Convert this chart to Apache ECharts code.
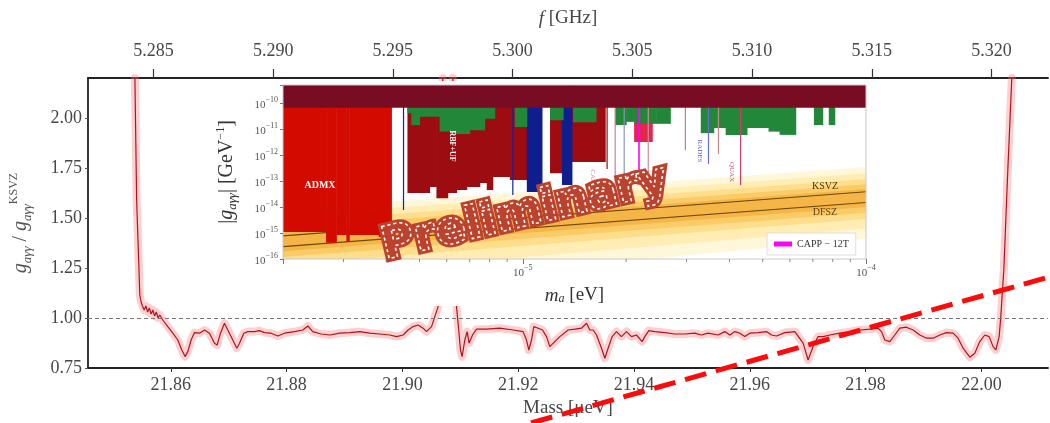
<!DOCTYPE html>
<html><head><meta charset="utf-8">
<script src="https://cdn.jsdelivr.net/npm/echarts@6/dist/echarts.min.js"></script>
<style>html,body{margin:0;padding:0;background:#fff}#c{width:1050px;height:423px}</style>
</head><body><div id="c"></div>
<script>
// ---------------- main chart data ----------------
const massUeV = [
21.8538,21.8541,21.85465,21.85487,21.8551,21.8554,21.8557,21.8560,21.8563,21.8566,21.8569,21.8572,21.8575,21.8578,21.8581,
21.85862,21.85948,21.86035,21.86121,21.8619,21.86247,21.86294,21.86351,21.86409,21.86496,21.86582,21.86668,21.86755,21.868,
21.86858,21.86927,21.86984,21.87071,21.8714,21.87187,21.87261,21.8733,21.87446,21.87532,21.87618,21.87732,21.87848,21.87964,
21.88136,21.8828,21.88366,21.88452,21.88596,21.88746,21.88919,21.89092,21.89264,21.89437,21.8961,21.89782,21.89898,21.90012,
21.90098,21.90185,21.90271,21.90358,21.90416,21.90503,21.9056,21.90617,21.90698,
21.9078,
21.90871,21.90934,21.90962,21.91003,21.91031,21.91078,21.91118,21.91152,21.91211,21.9128,21.91453,21.91682,21.91912,21.92085,
21.92143,21.92183,21.9223,21.92269,21.92344,21.9242,21.92489,21.92546,21.92632,21.92719,21.92862,21.92978,21.93093,21.9318,
21.93237,21.93294,21.93352,21.93439,21.93496,21.93553,21.93622,21.93698,21.93784,21.9387,21.93957,21.94043,21.9414,21.94187,
21.94256,21.9436,21.94532,21.94705,21.94878,21.9505,21.95166,21.9528,21.95453,21.95568,21.95655,21.95741,21.95827,21.95914,
21.96,21.96143,21.96288,21.96375,21.96461,21.96604,21.96777,21.96921,21.97007,21.97093,21.9718,21.97266,21.97382,21.97555,
21.97727,21.979,21.98073,21.98216,21.98275,21.98332,21.98418,21.98504,21.98591,21.98706,21.9882,21.98936,21.99052,21.99166,
21.99281,21.99397,21.99511,21.99597,21.99684,21.998,21.99886,21.99972,22.00059,22.00133,22.00202,22.00249,22.00306,22.00335,
22.00364,22.00387,22.00456,22.00525];
const ratioKsvz = [
2.20,1.59,1.115,1.08,1.06,1.04,1.06,1.03,1.05,1.02,1.04,1.01,1.03,1.00,1.015,
0.99,0.957,0.924,0.89,0.84,0.807,0.832,0.89,0.927,0.924,0.94,0.924,0.874,0.865,
0.924,0.974,0.94,0.89,0.849,0.874,0.924,0.932,0.932,0.937,0.927,0.924,0.91,0.924,
0.932,0.94,0.96,0.932,0.92,0.915,0.924,0.927,0.932,0.924,0.92,0.915,0.907,0.915,
0.94,0.957,0.965,0.949,0.932,0.957,1.007,1.057,2.20,
null,
2.20,1.057,0.974,0.84,0.807,0.89,0.932,0.874,0.915,0.944,0.944,0.949,0.94,0.932,
0.89,0.84,0.89,0.957,0.949,0.94,0.907,0.857,0.882,0.907,0.94,0.944,0.949,0.974,
0.94,0.94,0.915,0.849,0.799,0.849,0.907,0.932,0.907,0.932,0.907,0.915,0.882,0.907,
0.937,0.932,0.927,0.92,0.92,0.924,0.915,0.924,0.915,0.932,0.915,0.932,0.924,0.907,
0.924,0.927,0.932,0.915,0.91,0.927,0.932,0.874,0.79,0.857,0.907,0.907,0.915,0.924,
0.932,0.94,0.944,0.949,0.932,0.89,0.882,0.915,0.949,0.954,0.94,0.915,0.899,0.899,
0.915,0.927,0.924,0.899,0.849,0.804,0.824,0.882,0.915,0.907,0.857,0.84,0.907,1.007,
1.14,1.24,1.74,2.20];
const massTicks = [21.86, 21.88, 21.90, 21.92, 21.94, 21.96, 21.98, 22.00];
const freqTicks = [5.285, 5.290, 5.295, 5.300, 5.305, 5.310, 5.315, 5.320];
const ratioTicks = [0.75, 1.00, 1.25, 1.50, 1.75, 2.00];
const GHZ_PER_UEV = 0.241799;
const MASS_MIN = 21.8457, MASS_MAX = 22.0115;

// ---------------- inset data (m_a [eV], |g| [GeV^-1]) ----------------
const castLimit = [[2e-6, 6.6e-11], [1e-4, 6.6e-11]];
const admxLimit = [[2.0e-6,1.1e-15],[2.67e-6,4.2e-16],[2.86e-6,8.4e-16],[3.06e-6,4.5e-16],[3.12e-6,8.4e-16],[3.8e-6,7e-16],[4.14e-6,7e-16]];
const rbfLimit = [[4.61e-6,3.45e-14],[5.35e-6,5.9e-14],[5.6e-6,2.2e-14],[6.04e-6,3.45e-14],[6.41e-6,4.5e-14],[6.86e-6,5.9e-14],
  [7.49e-6,8.4e-14],[7.85e-6,4.5e-14],[8.17e-6,1.43e-13],[9.16e-6,1.09e-13],[1.027e-5,1.09e-13]];
const darkRedLimit = [[1.2e-5,2e-13],[1.3e-5,5.4e-13],[1.738e-5,5.4e-13]];
const blueLimit = [[1.027e-5,3.8e-14],[1.137e-5,5e-10],[1.3e-5,7e-14],[1.39e-5,5e-10]];
const pinkLimit = [[2.11e-5,3.2e-12],[2.383e-5,5e-10]];
const greenLimit = [[4.61e-6,4.1e-11],[4.73e-6,1.43e-11],[5.0e-6,3.0e-11],[5.72e-6,8e-12],[6.33e-6,6.5e-12],[7.0e-6,9e-12],
  [7.74e-6,2.5e-11],[8.28e-6,5e-10],[9.47e-6,1.2e-11],[1.027e-5,5e-10],[1.2e-5,2.2e-11],[1.31e-5,5e-10],[1.4e-5,1.86e-11],
  [1.634e-5,5e-10],[1.858e-5,1.43e-11],[2.0e-5,1.9e-11],[2.11e-5,1.6e-11],[2.45e-5,1.6e-11],[2.69e-5,5e-10],[3.3e-5,7e-12],
  [3.6e-5,1.1e-11],[3.9e-5,6e-12],[4.5e-5,1.1e-11],[5.2e-5,8e-12],[5.6e-5,6e-12],[6.24e-5,5e-10],[7.05e-5,1.43e-11],
  [7.48e-5,5e-10],[7.79e-5,1.43e-11],[8.11e-5,5e-10]];
const insetLines = [[4.49e-6,7.7e-15],[9.35e-6,2.9e-14],[1.76e-5,2.9e-13],[1.858e-5,4.5e-14],[1.974e-5,1.2e-13],[2.32e-5,1.9e-14],
  [2.976e-5,1.55e-12],[3.475e-5,4.5e-13],[3.716e-5,1.1e-12],[4.31e-5,7e-14]];
const capp12T = [[2.18e-5,1.2e-13]];
const ksvzLine = [[2e-6,7.8e-16],[1e-4,3.9e-14]];
const dfszLine = [[2e-6,3.0e-16],[1e-4,1.5e-14]];
const qcdBands = [
  [[2e-6,8e-15],[1e-4,3.5e-13],[1e-4,6e-16],[2e-6,5e-18]],
  [[2e-6,4.5e-15],[1e-4,2e-13],[1e-4,1.5e-15],[2e-6,2e-17]],
  [[2e-6,2.6e-15],[1e-4,1.2e-13],[1e-4,3.5e-15],[2e-6,6e-17]],
  [[2e-6,1.6e-15],[1e-4,7.5e-14],[1e-4,6e-15],[2e-6,1.2e-16]],
  [[2e-6,1.0e-15],[1e-4,5e-14],[1e-4,1.0e-14],[2e-6,2e-16]]
];
const insetMinorTicks = [3e-6,4e-6,5e-6,6e-6,7e-6,8e-6,9e-6,2e-5,3e-5,4e-5,5e-5,6e-5,7e-5,8e-5,9e-5];
const IX0 = 2e-6, IX1 = 1e-4, IY0 = 1e-16, IY1 = 5e-10;

// ---------------- styles ----------------
const SERIF = '"Liberation Serif","DejaVu Serif",serif';
const TXT = '#474747';
const lineColors = ['#14239a','#14239a','#9e0b0f','#d77a9a','#8c93b8','#c9909a','#b98080','#6d6dd8','#c48a8a','#c8406a'];
const qcdColors = ['rgba(255,232,150,0.35)','rgba(255,218,110,0.35)','rgba(252,200,80,0.4)','rgba(247,180,55,0.45)','rgba(240,160,40,0.5)'];

const mainData = massUeV.map((m, i) => [m, ratioKsvz[i] === null ? '-' : ratioKsvz[i]]);

function stepRect(limit) {
  return function (params, api) {
    const i = params.dataIndex;
    if (i >= limit.length - 1) return null;
    const a = api.coord([limit[i][0], limit[i][1]]);
    const b = api.coord([limit[i + 1][0], limit[i][1]]);
    const top = params.coordSys.y;
    const h = a[1] - top;
    if (h <= 0.3) return null;
    return {type: 'rect', shape: {x: a[0], y: top, width: b[0] - a[0] + 0.5, height: h},
      style: {fill: api.visual('color')}};
  };
}
function region(name, limit, color, z) {
  return {name, type: 'custom', xAxisIndex: 2, yAxisIndex: 1, data: limit, renderItem: stepRect(limit),
    itemStyle: {color}, clip: true, silent: true, z};
}
function vlines(name, data, colors, width, color, z) {
  return {name, type: 'custom', xAxisIndex: 2, yAxisIndex: 1, data, clip: true, silent: true, z,
    itemStyle: {color: color || '#888'},
    renderItem: (params, api) => {
      const p = api.coord([api.value(0), api.value(1)]);
      return {type: 'line', shape: {x1: p[0], y1: p[1], x2: p[0], y2: params.coordSys.y},
        style: {stroke: colors ? colors[params.dataIndex] : api.visual('color'), lineWidth: width}};
    }};
}
function powLabel(v) {
  const e = Math.log10(v);
  if (Math.abs(e - Math.round(e)) > 0.01) return '';
  return '{b|10}{s|\u2212' + Math.abs(Math.round(e)) + '}';
}
const powRich = {b: {fontFamily: SERIF, fontSize: 11, color: '#555', lineHeight: 15, verticalAlign: 'bottom'},
                 s: {fontFamily: SERIF, fontSize: 8, color: '#555', lineHeight: 9, verticalAlign: 'top'}};

const chart = echarts.init(document.getElementById('c'));
chart.setOption({
  animation: false,
  backgroundColor: '#fff',
  grid: [
    {left: 88, top: 78, right: 2, bottom: 55, show: false},
    {left: 283, top: 85, width: 583, height: 174, show: true, z: 30, borderColor: '#c8c8c8', borderWidth: 1, backgroundColor: 'transparent'}
  ],
  xAxis: [
    {type: 'value', gridIndex: 0, position: 'bottom', min: MASS_MIN, max: MASS_MAX,
     name: 'Mass [\u03bceV]', nameLocation: 'middle', nameGap: 30,
     nameTextStyle: {fontFamily: SERIF, fontSize: 19, color: TXT},
     axisLine: {lineStyle: {color: '#222', width: 1.8}},
     axisTick: {show: true, length: 4, customValues: massTicks, lineStyle: {color: '#333'}},
     axisLabel: {customValues: massTicks, margin: 8, fontFamily: SERIF, fontSize: 18, color: TXT, formatter: v => v.toFixed(2)},
     splitLine: {show: false}},
    {type: 'value', gridIndex: 0, position: 'top', min: MASS_MIN * GHZ_PER_UEV, max: MASS_MAX * GHZ_PER_UEV,
     name: '{i|f} [GHz]', nameLocation: 'middle', nameGap: 50,
     nameTextStyle: {fontFamily: SERIF, fontSize: 19, color: TXT, rich: {i: {fontFamily: SERIF, fontSize: 19, fontStyle: 'italic', color: TXT}}},
     axisLine: {lineStyle: {color: '#222', width: 1.8}},
     axisTick: {show: true, length: 9, customValues: freqTicks, lineStyle: {color: '#333', width: 1.2}},
     axisLabel: {customValues: freqTicks, margin: 18, fontFamily: SERIF, fontSize: 18, color: TXT, formatter: v => v.toFixed(3)},
     splitLine: {show: false}},
    {type: 'log', logBase: 10, gridIndex: 1, min: IX0, max: IX1, z: 31,
     name: '{i|m}{s|a}{n| [eV]}', nameLocation: 'middle', nameGap: 24,
     nameTextStyle: {rich: {i: {fontFamily: SERIF, fontSize: 19, fontStyle: 'italic', color: '#333', lineHeight: 22, verticalAlign: 'bottom'},
                            s: {fontFamily: SERIF, fontSize: 12, fontStyle: 'italic', color: '#333', lineHeight: 12, verticalAlign: 'bottom'},
                            n: {fontFamily: SERIF, fontSize: 19, color: '#333', lineHeight: 22, verticalAlign: 'bottom'}}},
     axisLine: {show: false}, axisTick: {show: true, length: 5, inside: false, lineStyle: {color: '#777'}},
     axisLabel: {margin: 5, formatter: powLabel, rich: powRich}, splitLine: {show: false}},
  ],
  yAxis: [
    {type: 'value', gridIndex: 0, min: 0.75, max: 2.2,
     name: '{i|g}{s|a\u03b3\u03b3}{n| / }{i|g}{s|a\u03b3\u03b3}{p|KSVZ}', nameLocation: 'middle', nameGap: 54, nameRotate: 90,
     nameTextStyle: {rich: {
       i: {fontFamily: SERIF, fontSize: 20, fontStyle: 'italic', color: '#555', lineHeight: 26, verticalAlign: 'middle'},
       s: {fontFamily: SERIF, fontSize: 13, fontStyle: 'italic', color: '#555', lineHeight: 12, verticalAlign: 'bottom'},
       p: {fontFamily: SERIF, fontSize: 12, color: '#555', lineHeight: 12, verticalAlign: 'top'},
       n: {fontFamily: SERIF, fontSize: 20, color: '#555', lineHeight: 26, verticalAlign: 'middle'}}},
     axisLine: {show: true, lineStyle: {color: '#222', width: 1.8}},
     axisTick: {show: true, length: 3, customValues: ratioTicks, lineStyle: {color: '#555'}},
     axisLabel: {customValues: ratioTicks, margin: 6, fontFamily: SERIF, fontSize: 18, color: TXT, formatter: v => v.toFixed(2)},
     splitLine: {show: false}},
    {type: 'log', logBase: 10, gridIndex: 1, min: IY0, max: IY1, z: 31,
     name: '{n||}{i|g}{s|a\u03b3\u03b3}{n|| [GeV}{p|\u22121}{n|]}', nameLocation: 'middle', nameGap: 44, nameRotate: 90,
     nameTextStyle: {rich: {
       i: {fontFamily: SERIF, fontSize: 20, fontStyle: 'italic', color: '#333', lineHeight: 24, verticalAlign: 'middle'},
       s: {fontFamily: SERIF, fontSize: 13, fontStyle: 'italic', color: '#333', lineHeight: 12, verticalAlign: 'bottom'},
       p: {fontFamily: SERIF, fontSize: 12, color: '#333', lineHeight: 12, verticalAlign: 'top'},
       n: {fontFamily: SERIF, fontSize: 20, color: '#333', lineHeight: 24, verticalAlign: 'middle'}}},
     axisLine: {show: false}, axisTick: {show: true, length: 3, lineStyle: {color: '#777'}},
     axisLabel: {margin: 5, formatter: powLabel, rich: powRich}, splitLine: {show: false}}
  ],
  legend: {data: [{name: 'CAPP \u2212 12T', icon: 'rect'}], left: 767, top: 233, itemWidth: 18, itemHeight: 5,
    textStyle: {fontFamily: SERIF, fontSize: 10, color: '#333'}, backgroundColor: '#fff', borderColor: '#ddd', borderWidth: 1,
    padding: [6, 7], z: 40, selectedMode: false},
  series: [
    {name: 'band', type: 'line', xAxisIndex: 0, yAxisIndex: 0, data: mainData, showSymbol: false, symbol: 'none',
     lineStyle: {color: 'rgba(242,125,125,0.36)', width: 8, join: 'round', cap: 'round'}, z: 2, silent: true,
     markLine: {silent: true, symbol: 'none', label: {show: false}, data: [{yAxis: 1}],
                lineStyle: {type: [4, 3], color: '#777', width: 1}}},
    {name: 'ratio', type: 'line', xAxisIndex: 0, yAxisIndex: 0, data: mainData, showSymbol: false, symbol: 'none',
     lineStyle: {color: '#b3121b', width: 1.2}, z: 3, silent: true},
    {name: 'qcd', type: 'custom', xAxisIndex: 2, yAxisIndex: 1, data: qcdBands.map(b => b[0]), clip: true, silent: true, z: 10,
     renderItem: (params, api) => ({type: 'polygon', shape: {points: qcdBands[params.dataIndex].map(p => api.coord(p))},
       style: {fill: qcdColors[params.dataIndex]}})},
    {name: 'KSVZ', type: 'line', xAxisIndex: 2, yAxisIndex: 1, data: ksvzLine, symbol: 'none', silent: true, z: 11,
     lineStyle: {color: '#6b4a08', width: 1.1}},
    {name: 'DFSZ', type: 'line', xAxisIndex: 2, yAxisIndex: 1, data: dfszLine, symbol: 'none', silent: true, z: 11,
     lineStyle: {color: '#6b4a08', width: 1.1}},
    region('ADMX', admxLimit, '#d30a00', 12),
    region('RBF+UF', rbfLimit, '#9c0c10', 12),
    region('darkred', darkRedLimit, '#9c0c10', 12),
    region('blue', blueLimit, '#0e1e8e', 13),
    region('pink', pinkLimit, '#e3264d', 13),
    region('green', greenLimit, '#23873a', 14),
    vlines('lines', insetLines, lineColors, 1.2, null, 15),
    vlines('CAPP \u2212 12T', capp12T, null, 1.6, '#ff00ff', 15),
    region('CAST', castLimit, '#780c22', 16),
    {name: 'minor', type: 'custom', xAxisIndex: 2, yAxisIndex: 1, data: insetMinorTicks.map(v => [v, IY0]), clip: false, silent: true, z: 31,
     renderItem: (params, api) => { const p = api.coord([api.value(0), api.value(1)]);
       return {type: 'line', shape: {x1: p[0], y1: p[1], x2: p[0], y2: p[1] + 3}, style: {stroke: '#888', lineWidth: 1}}; }}
  ],
  graphic: {elements: [
    {type: 'rect', z: 5, silent: true, shape: {x: 222, y: 81, width: 656, height: 225}, style: {fill: '#fff'}},
    {type: 'text', z: 45, x: 320, y: 185, style: {text: 'ADMX', font: 'bold 10px "Liberation Serif"', fill: '#fff', textAlign: 'center', textVerticalAlign: 'middle'}},
    {type: 'text', z: 45, x: 452, y: 146, rotation: -Math.PI / 2, style: {text: 'RBF+UF', font: 'bold 8px "Liberation Serif"', fill: '#fff', textAlign: 'center', textVerticalAlign: 'middle'}},
    {type: 'text', z: 45, x: 593, y: 178, rotation: -Math.PI / 2, style: {text: 'CAPP', font: '7px "Liberation Serif"', fill: '#e07a9c', textAlign: 'center', textVerticalAlign: 'middle'}},
    {type: 'text', z: 45, x: 700, y: 151, rotation: -Math.PI / 2, style: {text: 'RADES', font: '7px "Liberation Serif"', fill: '#6a5ad0', textAlign: 'center', textVerticalAlign: 'middle'}},
    {type: 'text', z: 45, x: 732, y: 172, rotation: -Math.PI / 2, style: {text: 'QUAX', font: '7px "Liberation Serif"', fill: '#d0506e', textAlign: 'center', textVerticalAlign: 'middle'}},
    {type: 'text', z: 45, x: 825, y: 186, style: {text: 'KSVZ', font: '10px "Liberation Serif"', fill: '#4a3400', textAlign: 'center', textVerticalAlign: 'middle'}},
    {type: 'text', z: 45, x: 825, y: 212, style: {text: 'DFSZ', font: '10px "Liberation Serif"', fill: '#5a4410', textAlign: 'center', textVerticalAlign: 'middle'}},
    {type: 'text', z: 100, x: 525, y: 214, rotation: 0.235, silent: true,
     style: {text: 'Preliminary', font: 'bold 45px "DejaVu Sans"', fill: '#bb432d', stroke: '#bb432d', lineWidth: 7, textAlign: 'center', textVerticalAlign: 'middle'}},
    {type: 'text', z: 101, x: 525, y: 214, rotation: 0.235, silent: true,
     style: {text: 'Preliminary', font: 'bold 45px "DejaVu Sans"', fill: 'rgba(0,0,0,0)', stroke: '#ffffff', lineWidth: 1.5, lineDash: [3, 3], textAlign: 'center', textVerticalAlign: 'middle'}},
    {type: 'line', z: 100, silent: true, shape: {x1: 531, y1: 423, x2: 1050, y2: 276.7},
     style: {stroke: '#ff0a0a', lineWidth: 5, lineDash: [22, 10]}}
  ]}
});
</script></body></html>
